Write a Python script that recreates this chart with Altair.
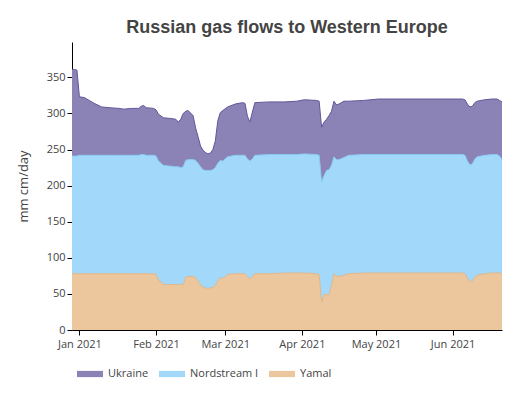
import altair as alt
import pandas as pd

dates = [
    "2020-12-29", "2020-12-30", "2020-12-31", "2021-01-01", "2021-01-03", "2021-01-05", "2021-01-07",
    "2021-01-10", "2021-01-13", "2021-01-17", "2021-01-19", "2021-01-22", "2021-01-25", "2021-01-26",
    "2021-01-27", "2021-01-28", "2021-01-31",
    "2021-02-01", "2021-02-02", "2021-02-04", "2021-02-07", "2021-02-09", "2021-02-10", "2021-02-11",
    "2021-02-12", "2021-02-13", "2021-02-14", "2021-02-16", "2021-02-17", "2021-02-18", "2021-02-19",
    "2021-02-20", "2021-02-21", "2021-02-22", "2021-02-23", "2021-02-24", "2021-02-25", "2021-02-26",
    "2021-02-27", "2021-02-28",
    "2021-03-02", "2021-03-05", "2021-03-08", "2021-03-09", "2021-03-10", "2021-03-11", "2021-03-12",
    "2021-03-13", "2021-03-19", "2021-03-25", "2021-03-30",
    "2021-04-02", "2021-04-07", "2021-04-08", "2021-04-09", "2021-04-10", "2021-04-11", "2021-04-12",
    "2021-04-13", "2021-04-14", "2021-04-15", "2021-04-16", "2021-04-18", "2021-04-20", "2021-04-26",
    "2021-05-02", "2021-05-15", "2021-06-01", "2021-06-05", "2021-06-06", "2021-06-07", "2021-06-08",
    "2021-06-09", "2021-06-10", "2021-06-11", "2021-06-14", "2021-06-17", "2021-06-19", "2021-06-20",
    "2021-06-21",
]

yamal = [
    78, 78, 78, 78, 78, 78, 78, 78, 78, 78, 78, 78, 78, 78, 78, 78, 78,
    77, 70, 63, 63, 63, 63, 63, 63, 73, 74, 74, 73, 68, 63, 59, 58, 58, 58, 59, 62, 68, 73, 71,
    77, 78, 78, 78, 74, 71, 74, 78, 78, 79, 79,
    79, 78, 77, 39, 49, 49, 49, 62, 78, 75, 74, 76, 78, 79,
    79, 79, 79, 79, 78, 72, 67, 68, 73, 76, 78, 79, 79, 79, 78,
]

nordstream = [
    163, 163, 163, 164, 164, 164, 164, 164, 164, 164, 164, 164, 164, 165, 165, 164, 164,
    164, 164, 165, 164, 163, 163, 162, 163, 162, 162, 162, 162, 163, 163, 163, 163, 163, 163, 163,
    163, 163, 162, 163,
    163, 164, 164, 164, 163, 163, 163, 164, 165, 164, 164,
    165, 165, 165, 166, 165, 172, 173, 166, 162, 161, 162, 163, 164, 164,
    164, 164, 164, 164, 164, 162, 162, 162, 164, 164, 164, 164, 164, 162, 158,
]

ukraine = [
    120, 120, 119, 81, 80, 76, 72, 67, 66, 65, 64, 65, 65, 67, 68, 66, 65,
    64, 65, 66, 66, 66, 62, 67, 74, 68, 68, 61, 45, 37, 29, 27, 25, 23, 24, 28, 37, 59, 66, 70,
    69, 71, 73, 72, 59, 54, 65, 73, 73, 73, 74,
    75, 75, 75, 76, 74, 71, 75, 75, 77, 76, 77, 78, 75, 75,
    77, 77, 77, 77, 77, 79, 80, 80, 78, 77, 77, 77, 77, 77, 80,
]

series = ["Ukraine", "Nordstream I", "Yamal"]
fill_colors = ["#8b83b6", "#a2d9fb", "#ecc69c"]
line_colors = ["#5e5899", "#86cbf3", "#dfb68a"]
y_ticks = [0, 50, 100, 150, 200, 250, 300, 350]

rows = []
for d, y, n, u in zip(dates, yamal, nordstream, ukraine):
    rows.append({"date": pd.Timestamp(d), "series": "Yamal", "lo": 0, "hi": y})
    rows.append({"date": pd.Timestamp(d), "series": "Nordstream I", "lo": y, "hi": y + n})
    rows.append({"date": pd.Timestamp(d), "series": "Ukraine", "lo": y + n, "hi": y + n + u})
df = pd.DataFrame(rows)

x_enc = alt.X(
    "date:T",
    scale=alt.Scale(domain=[alt.DateTime(year=2020, month=12, date=29),
                            alt.DateTime(year=2021, month=6, date=21)], nice=False),
    axis=alt.Axis(
        values=[alt.DateTime(year=2021, month=m, date=1) for m in range(1, 7)],
        format="%b %Y", title=None, grid=False, tickSize=5, labelPadding=3,
        domainColor="#000000", tickColor="#000000",
    ),
)

y_axis = alt.Axis(
    values=y_ticks, title="mm cm/day", grid=False, tickSize=5, labelPadding=2,
    titlePadding=16, domainColor="#000000", tickColor="#000000",
)

area = alt.Chart(df).mark_area(opacity=1).encode(
    x=x_enc,
    y=alt.Y("hi:Q", scale=alt.Scale(domain=[0, 399], nice=False), axis=y_axis),
    y2="lo:Q",
    color=alt.Color(
        "series:N",
        scale=alt.Scale(domain=series, range=fill_colors),
        legend=alt.Legend(
            title=None, orient="none", direction="horizontal", columns=3,
            legendX=5, legendY=319,
            symbolType="M-1,-0.24L1,-0.24L1,0.24L-1,0.24Z", symbolSize=676,
            symbolStrokeWidth=0, symbolOpacity=1,
            labelOffset=5, columnPadding=10,
        ),
    ),
)

line = alt.Chart(df).mark_line(strokeWidth=1).encode(
    x=x_enc,
    y=alt.Y("hi:Q"),
    stroke=alt.Stroke("series:N", scale=alt.Scale(domain=series, range=line_colors), legend=None),
    detail="series:N",
)

chart = alt.layer(area, line).properties(
    width=430,
    height=288,
    padding={"left": 9, "top": 11, "right": 5, "bottom": 5},
    title=alt.TitleParams(
        "Russian gas flows to Western Europe",
        font="Liberation Sans", fontSize=18, fontWeight="bold", color="#444444",
        anchor="middle", offset=5,
    ),
).configure_view(stroke=None).configure_axis(
    labelFont="Open Sans", labelFontSize=11, labelColor="#444444",
    titleFont="Open Sans", titleFontSize=13, titleColor="#444444", titleFontWeight="normal",
).configure_legend(
    labelFont="Open Sans", labelFontSize=11, labelColor="#444444",
)

chart.save("out.html", embed_options={"renderer": "svg", "actions": False})
